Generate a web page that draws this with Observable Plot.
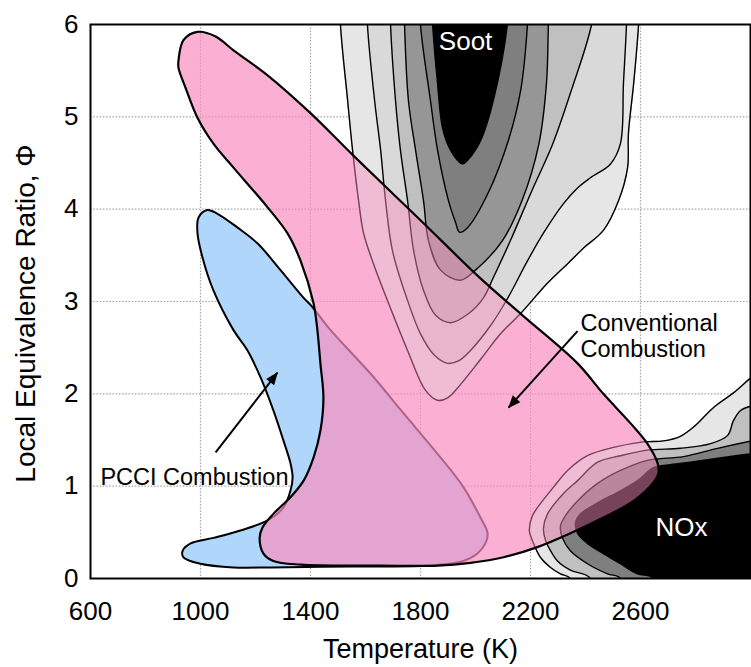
<!DOCTYPE html>
<html>
<head>
<meta charset="utf-8">
<script src="https://cdn.jsdelivr.net/npm/d3@7"></script>
<script src="https://cdn.jsdelivr.net/npm/@observablehq/plot@0.6"></script>
<style>
  body { margin: 0; background: #fff; }
</style>
</head>
<body>
<div id="chart"></div>
<script>
// Axis ticks
const xTicks = [600, 1000, 1400, 1800, 2200, 2600];
const yTicks = [0, 1, 2, 3, 4, 5, 6];
const xGrid = [1000, 1400, 1800, 2200, 2600];
const yGrid = [1, 2, 3, 4, 5];

// Soot contours [T (K), Φ], outermost to innermost; open at the top, closed above Φ = 6
const sootE6 = [[1500,7.2],[1506,6.5],[1509,6.0],[1535,5.18],[1553,4.64],[1575,4.09],[1593,3.74],[1630,3.4],[1680,3.01],[1753,2.47],[1818,2.04],[1862,1.93],[1900,1.96],[1945,2.10],[2020,2.38],[2091,2.65],[2164,2.87],[2262,3.20],[2335,3.41],[2393,3.58],[2465,3.77],[2520,4.09],[2553,4.45],[2556,4.82],[2575,5.36],[2593,6.0],[2600,6.5],[2600,7.2]];
const sootD9 = [[1600,7.2],[1604,6.5],[1607,6.0],[1633,5.18],[1655,4.64],[1673,4.09],[1698,3.55],[1753,3.01],[1800,2.65],[1850,2.42],[1898,2.33],[1940,2.36],[1982,2.47],[2055,2.74],[2116,3.03],[2189,3.44],[2247,3.74],[2320,4.06],[2371,4.23],[2418,4.34],[2491,4.49],[2527,4.71],[2538,5.36],[2549,6.0],[2552,6.5],[2552,7.2]];
const sootC0 = [[1685,7.2],[1688,6.5],[1691,6.0],[1709,5.18],[1727,4.64],[1753,4.09],[1775,3.55],[1811,3.12],[1855,2.85],[1909,2.77],[1975,2.87],[2029,3.04],[2065,3.26],[2127,3.66],[2205,4.2],[2280,4.7],[2350,5.3],[2422,6.0],[2440,6.5],[2440,7.2]];
const soot96 = [[1738,7.2],[1740,6.5],[1742,6.0],[1756,5.18],[1782,4.64],[1811,4.09],[1829,3.66],[1873,3.34],[1945,3.23],[2000,3.34],[2098,3.66],[2170,4.1],[2230,4.7],[2258,5.36],[2265,6.0],[2270,6.5],[2270,7.2]];
const soot80 = [[1795,7.2],[1797,6.5],[1800,6.0],[1836,5.18],[1862,4.64],[1902,4.09],[1927,3.86],[1942,3.75],[1971,3.80],[2045,4.17],[2120,4.75],[2165,5.3],[2189,6.0],[2195,6.5],[2195,7.2]];
const sootCore = [[1832,7.2],[1836,6.5],[1844,6.0],[1862,5.36],[1880,4.88],[1909,4.64],[1953,4.49],[1971,4.53],[2018,4.74],[2065,5.18],[2116,6.0],[2125,6.5],[2125,7.2]];

// NOx contours [T (K), Φ], closed beyond the right and bottom edges
const noxE6 = [[2364,-0.6],[2345,0],[2309,0.05],[2273,0.12],[2236,0.23],[2211,0.38],[2196,0.52],[2207,0.68],[2236,0.81],[2284,0.99],[2335,1.17],[2407,1.33],[2502,1.42],[2611,1.48],[2684,1.49],[2745,1.54],[2793,1.64],[2865,1.85],[2938,2.01],[3004,2.18],[3080,2.35],[3200,2.4],[3200,-0.6]];
const noxC0 = [[2430,-0.6],[2418,0],[2345,0.09],[2298,0.19],[2273,0.30],[2255,0.41],[2247,0.54],[2262,0.70],[2320,0.92],[2371,1.06],[2444,1.26],[2527,1.33],[2625,1.39],[2745,1.41],[2855,1.46],[2917,1.55],[2938,1.71],[2964,1.82],[3004,1.87],[3080,1.92],[3200,1.95],[3200,-0.6]];
const nox80 = [[2540,-0.6],[2527,0],[2480,0.05],[2407,0.16],[2345,0.30],[2316,0.44],[2309,0.57],[2327,0.68],[2371,0.84],[2444,1.03],[2527,1.17],[2625,1.28],[2756,1.32],[2880,1.41],[3004,1.49],[3200,1.6],[3200,-0.6]];
const noxCore = [[2660,-0.6],[2647,0],[2589,0.05],[2527,0.16],[2465,0.27],[2407,0.38],[2371,0.49],[2364,0.61],[2382,0.70],[2444,0.82],[2527,0.95],[2589,1.06],[2647,1.20],[2700,1.23],[2782,1.26],[3004,1.35],[3200,1.4],[3200,-0.6]];

// Conventional combustion region [T (K), Φ]
const conventional = [[920,5.61],[938,5.83],[989,5.92],[1055,5.87],[1120,5.72],[1244,5.45],[1400,5.04],[1556,4.58],[1800,3.88],[2018,3.25],[2171,2.85],[2371,2.33],[2465,2.00],[2564,1.68],[2625,1.46],[2662,1.25],[2665,1.14],[2647,1.04],[2575,0.84],[2465,0.66],[2345,0.49],[2225,0.34],[2102,0.23],[1982,0.17],[1862,0.14],[1655,0.14],[1364,0.15],[1265,0.19],[1229,0.27],[1215,0.44],[1225,0.55],[1265,0.70],[1327,0.88],[1375,1.06],[1411,1.31],[1436,1.60],[1447,1.96],[1436,2.33],[1425,2.69],[1411,2.98],[1364,3.44],[1316,3.74],[1244,4.02],[1120,4.45],[1047,4.71],[989,4.99],[945,5.32],[920,5.53]];

// PCCI combustion region [T (K), Φ]
const pcci = [[1025,3.99],[1062,3.95],[1135,3.80],[1207,3.63],[1291,3.34],[1375,3.04],[1407,2.94],[1473,2.69],[1618,2.22],[1738,1.79],[1862,1.35],[1956,0.99],[2018,0.66],[2044,0.49],[2036,0.38],[2007,0.27],[1956,0.19],[1836,0.14],[1545,0.13],[1255,0.12],[1120,0.12],[1000,0.16],[938,0.23],[935,0.30],[964,0.38],[1047,0.44],[1145,0.52],[1244,0.63],[1302,0.77],[1327,0.95],[1335,1.09],[1327,1.25],[1302,1.49],[1265,1.82],[1218,2.18],[1171,2.47],[1120,2.69],[1047,3.12],[1007,3.48],[989,3.74],[993,3.91]];

// Labels and arrows
const regionNames = [
  {text: "PCCI Combustion", T: 636, phi: 1.10},
  {text: "Conventional\nCombustion", T: 2382, phi: 2.63}
];
const speciesNames = [
  {text: "Soot", T: 1964, phi: 5.81},
  {text: "NOx", T: 2749, phi: 0.55}
];
const arrows = [
  {T1: 1055, phi1: 1.365, T2: 1280, phi2: 2.23},
  {T1: 2371, phi1: 2.68, T2: 2120, phi2: 1.85}
];
const xTitle = [{text: "Temperature (K)"}];
const yTitle = [{text: "Local Equivalence Ratio, \u03a6", phi: 2.87}];

const bandFills = {
  soot: ["#e6e6e6", "#d9d9d9", "#c0c0c0", "#969696", "#7f7f7f", "#000000"],
  nox: ["#e6e6e6", "#c0c0c0", "#7f7f7f", "#000000"]
};
const sootBands = [sootE6, sootD9, sootC0, soot96, soot80, sootCore];
const noxBands = [noxE6, noxC0, nox80, noxCore];

// One row per contour vertex, with the band it belongs to
const contourRows = [
  ...sootBands.map((pts, i) => [pts, bandFills.soot[i]]),
  ...noxBands.map((pts, i) => [pts, bandFills.nox[i]])
].flatMap(([pts, fill], band) => pts.map(([T, phi]) => ({T, phi, band, fill})));

const xy = {x: d => d[0], y: d => d[1], curve: "catmull-rom-closed"};
const contourOptions = {x: "T", y: "phi", z: "band", fill: "fill", stroke: "black", strokeWidth: 1.4, curve: "catmull-rom-closed", clip: true};

const chart = Plot.plot({
  width: 751,
  height: 667,
  marginLeft: 90,
  marginRight: 1,
  marginTop: 24,
  marginBottom: 89,
  x: {domain: [600, 3000]},
  y: {domain: [0, 6]},
  color: {type: "identity"},
  style: {fontFamily: "'Liberation Sans', Arial, Helvetica, sans-serif", fontSize: "26px", color: "black", background: "white", overflow: "visible"},
  marks: [
    Plot.gridX(xGrid, {stroke: "#a8a8a8", strokeOpacity: 1, strokeWidth: 1.2, strokeDasharray: "1.6,1.6"}),
    Plot.gridY(yGrid, {stroke: "#a8a8a8", strokeOpacity: 1, strokeWidth: 1.2, strokeDasharray: "1.6,1.6"}),
    // soot and NOx bands
    Plot.line(contourRows, contourOptions),
    // PCCI region
    Plot.line(pcci, {...xy, fill: "#b0d6fc", stroke: "black", strokeWidth: 2}),
    // conventional region, translucent
    Plot.line(conventional, {...xy, fill: "#fa8ec1", fillOpacity: 0.7, stroke: "none"}),
    // bands again, shown through the conventional region (group opacity set below)
    Plot.line(contourRows, {...contourOptions, ariaDescription: "contour-overlay"}),
    Plot.line(conventional, {...xy, fill: "none", stroke: "black", strokeWidth: 2.2}),
    Plot.frame({stroke: "black", strokeWidth: 2}),
    Plot.axisX({ticks: xTicks, tickSize: 0, tickPadding: 23, fontSize: 26, tickFormat: d => `${d}`, label: null}),
    Plot.axisY({ticks: yTicks, tickSize: 0, tickPadding: 12, fontSize: 26, tickFormat: d => `${d}`, label: null}),
    Plot.text(xTitle, {text: "text", frameAnchor: "bottom", lineAnchor: "middle", textAnchor: "middle", dy: 71, fontSize: 27}),
    Plot.text(yTitle, {text: "text", y: "phi", frameAnchor: "left", textAnchor: "middle", lineAnchor: "middle", dx: -64, rotate: -90, fontSize: 28}),
    Plot.text(regionNames, {x: "T", y: "phi", text: "text", textAnchor: "start", lineAnchor: "middle", fill: "black", fontSize: 23.5, lineHeight: 1.1}),
    Plot.text(speciesNames, {x: "T", y: "phi", text: "text", textAnchor: "middle", lineAnchor: "middle", fill: "white", fontSize: 26}),
    Plot.link(arrows, {x1: "T1", y1: "phi1", x2: "T2", y2: "phi2", stroke: "black", strokeWidth: 2, markerEnd: "arrow"})
  ]
});

// Bands over the conventional region are composited as one translucent layer
d3.select(chart).selectAll('[aria-description="contour-overlay"]').attr("opacity", 0.32);

// Solid triangular arrow heads
d3.select(chart).selectAll("marker")
  .attr("overflow", "visible")
  .attr("fill", "black")
  .attr("stroke", "none")
  .selectAll("path")
  .attr("d", "M-9,-3.8L0.5,0L-9,3.8Z")
  .attr("fill", "black")
  .attr("stroke", "none");

document.getElementById("chart").appendChild(chart);
</script>
</body>
</html>
